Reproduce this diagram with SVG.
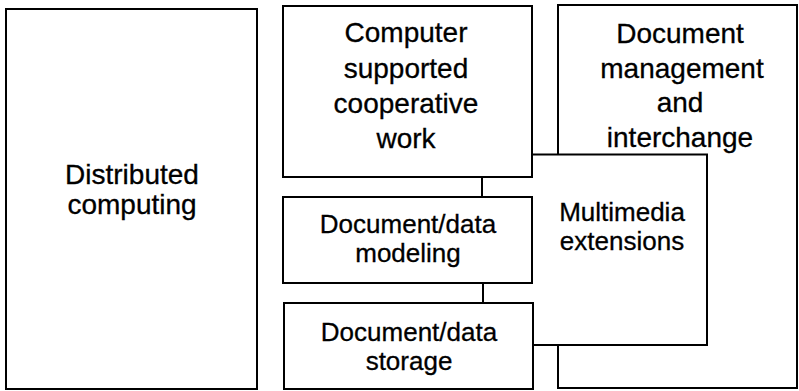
<svg xmlns="http://www.w3.org/2000/svg" width="799" height="391" viewBox="0 0 799 391">
<style>
.box{fill:#fff;stroke:#000;stroke-width:2}
.ln{fill:none;stroke:#000;stroke-width:2}
.t{font-family:"Liberation Sans",Arial,sans-serif;font-size:28px;fill:#000;stroke:#000;stroke-width:0.3;text-anchor:middle}
.s{font-size:26px}
</style>
<rect width="799" height="391" fill="#fff"/>
<g id="distributed-computing">
<rect class="box" x="6" y="9" width="251" height="380"/>
<text class="t" x="132" y="184">Distributed</text>
<text class="t" x="132" y="214">computing</text>
</g>
<g id="document-management">
<rect class="box" x="558" y="5" width="239" height="383"/>
<text class="t" x="680" y="43">Document</text>
<text class="t" x="682" y="78">management</text>
<text class="t" x="680" y="112">and</text>
<text class="t" x="680" y="147">interchange</text>
</g>
<g id="multimedia-extensions">
<path class="box" d="M532,154.5 H707 V345 H532"/>
<text class="t s" x="622" y="221">Multimedia</text>
<text class="t s" x="622" y="250">extensions</text>
</g>
<g id="cscw">
<rect class="box" x="283" y="6" width="249" height="171"/>
<text class="t" x="406" y="42">Computer</text>
<text class="t" x="406" y="78">supported</text>
<text class="t" x="406" y="113">cooperative</text>
<text class="t" x="406" y="148">work</text>
</g>
<g id="document-data-modeling">
<rect class="box" x="283" y="197" width="249" height="86"/>
<text class="t s" x="408" y="233">Document/data</text>
<text class="t s" x="408" y="262">modeling</text>
</g>
<g id="document-data-storage">
<rect class="box" x="284" y="303" width="249" height="86"/>
<text class="t s" x="409" y="341">Document/data</text>
<text class="t s" x="409" y="370">storage</text>
</g>
<g id="connectors">
<line class="ln" x1="482" y1="177" x2="482" y2="197"/>
<line class="ln" x1="483" y1="283" x2="483" y2="303"/>
</g>
</svg>
